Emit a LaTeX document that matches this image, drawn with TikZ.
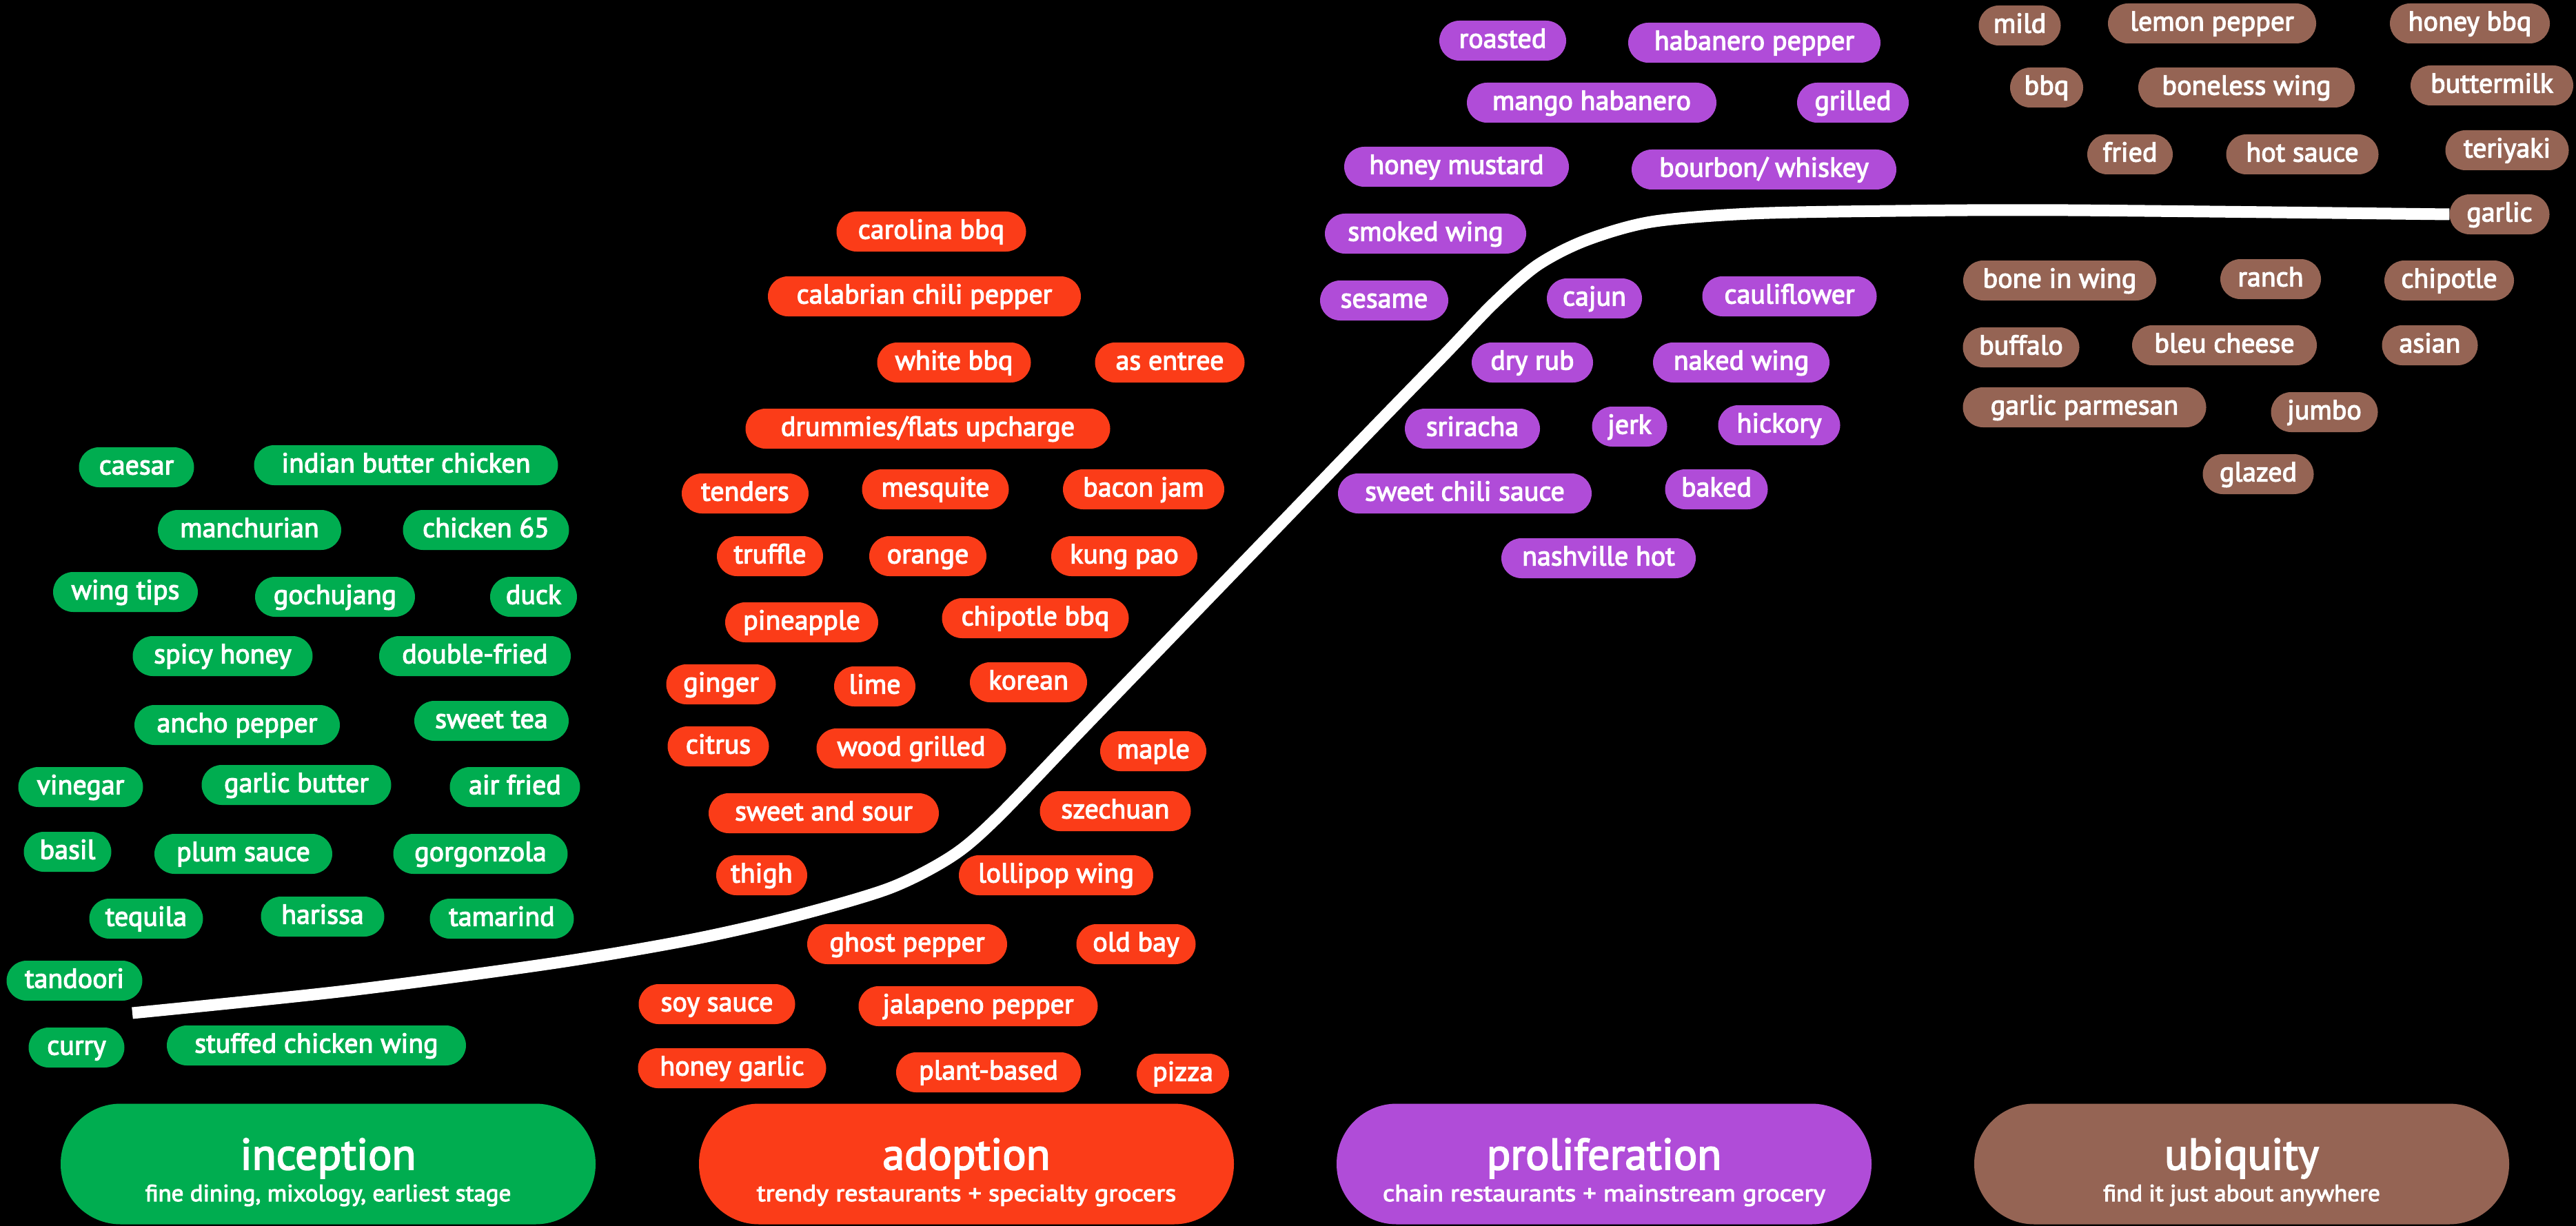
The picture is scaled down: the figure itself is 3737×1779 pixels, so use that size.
\documentclass[tikz,border=0pt]{standalone}
\usepackage{fontspec}
\setmainfont{PT Sans}
\newfontfamily\tagfont{PT Sans}[FakeBold=3]
\definecolor{cGreen}{RGB}{0,173,80}
\definecolor{cRed}{RGB}{251,60,24}
\definecolor{cPurple}{RGB}{176,76,216}
\definecolor{cBrown}{RGB}{149,100,84}
\tikzset{
  pill/.style={rectangle, rounded corners=29pt, text=white, minimum height=58pt,
    inner xsep=0pt, inner ysep=0pt, text height=29pt, text depth=8pt,
    font=\tagfont\fontsize{40pt}{48pt}\selectfont},
  gp/.style={pill, fill=cGreen},
  rp/.style={pill, fill=cRed},
  pp/.style={pill, fill=cPurple},
  bp/.style={pill, fill=cBrown},
  stage/.style={rectangle, rounded corners=87pt, minimum width=776pt, minimum height=175pt, inner sep=0pt},
  stitle/.style={text=white, anchor=base, inner sep=0pt, font=\tagfont\fontsize{64pt}{70pt}\selectfont},
  ssub/.style={text=white, anchor=base, inner sep=0pt, font=\tagfont\fontsize{34pt}{38pt}\selectfont},
  sline/.style={draw=white, line width=17pt, line cap=butt, line join=round}
}
\newcommand\tg[6]{\node[#1, minimum width=#5pt] (#2) at (#3,#4) {#6};}
\begin{document}
\begin{tikzpicture}[x=1pt,y=-1pt]
\fill[black] (0,0) rectangle (3737,1779);
\useasboundingbox (0,0) rectangle (3737,1779);

% inception
\tg{gp}{g1}{198}{678}{167}{caesar}
\tg{gp}{g2}{589}{675}{441}{indian butter chicken}
\tg{gp}{g3}{362}{769}{266}{manchurian}
\tg{gp}{g4}{705}{769}{241}{chicken 65}
\tg{gp}{g5}{182}{859}{210}{wing tips}
\tg{gp}{g6}{486}{866}{232}{gochujang}
\tg{gp}{g7}{774}{866}{126}{duck}
\tg{gp}{g8}{323}{952}{261}{spicy honey}
\tg{gp}{g9}{689}{952}{278}{double-fried}
\tg{gp}{g10}{344}{1052}{298}{ancho pepper}
\tg{gp}{g11}{713}{1046}{224}{sweet tea}
\tg{gp}{g12}{117}{1142}{181}{vinegar}
\tg{gp}{g13}{430}{1139}{275}{garlic butter}
\tg{gp}{g14}{747}{1142}{189}{air fried}
\tg{gp}{g15}{98}{1236}{127}{basil}
\tg{gp}{g16}{353}{1239}{258}{plum sauce}
\tg{gp}{g17}{697}{1239}{253}{gorgonzola}
\tg{gp}{g18}{212}{1333}{165}{tequila}
\tg{gp}{g19}{468}{1330}{179}{harissa}
\tg{gp}{g20}{728}{1333}{209}{tamarind}
\tg{gp}{g21}{108}{1423}{197}{tandoori}
\tg{gp}{g22}{111}{1520}{139}{curry}
\tg{gp}{g23}{459}{1517}{434}{stuffed chicken wing}

% adoption
\tg{rp}{r1}{1351}{336}{275}{carolina bbq}
\tg{rp}{r2}{1341}{430}{454}{calabrian chili pepper}
\tg{rp}{r3}{1384}{526}{223}{white bbq}
\tg{rp}{r4}{1697}{526}{217}{as entree}
\tg{rp}{r5}{1346}{622}{529}{drummies/flats upcharge}
\tg{rp}{r6}{1081}{716}{184}{tenders}
\tg{rp}{r7}{1357}{710}{213}{mesquite}
\tg{rp}{r8}{1659}{710}{234}{bacon jam}
\tg{rp}{r9}{1117}{807}{154}{truffle}
\tg{rp}{r10}{1346}{807}{170}{orange}
\tg{rp}{r11}{1631}{807}{212}{kung pao}
\tg{rp}{r12}{1163}{903}{222}{pineapple}
\tg{rp}{r13}{1502}{897}{271}{chipotle bbq}
\tg{rp}{r14}{1046}{993}{159}{ginger}
\tg{rp}{r15}{1269}{996}{118}{lime}
\tg{rp}{r16}{1492}{990}{170}{korean}
\tg{rp}{r17}{1042}{1083}{147}{citrus}
\tg{rp}{r18}{1322}{1086}{275}{wood grilled}
\tg{rp}{r19}{1673}{1090}{154}{maple}
\tg{rp}{r20}{1195}{1180}{334}{sweet and sour}
\tg{rp}{r21}{1618}{1177}{219}{szechuan}
\tg{rp}{r22}{1105}{1270}{132}{thigh}
\tg{rp}{r23}{1532}{1270}{282}{lollipop wing}
\tg{rp}{r24}{1316}{1370}{290}{ghost pepper}
\tg{rp}{r25}{1648}{1370}{173}{old bay}
\tg{rp}{r26}{1040}{1457}{227}{soy sauce}
\tg{rp}{r27}{1419}{1460}{347}{jalapeno pepper}
\tg{rp}{r28}{1062}{1550}{273}{honey garlic}
\tg{rp}{r29}{1434}{1556}{268}{plant-based}
\tg{rp}{r30}{1716}{1558}{134}{pizza}

% proliferation
\tg{pp}{p1}{2180}{59}{184}{roasted}
\tg{pp}{p2}{2545}{62}{366}{habanero pepper}
\tg{pp}{p3}{2309}{149}{362}{mango habanero}
\tg{pp}{p4}{2688}{149}{162}{grilled}
\tg{pp}{p5}{2113}{242}{326}{honey mustard}
\tg{pp}{p6}{2559}{246}{384}{bourbon/ whiskey}
\tg{pp}{p7}{2068}{339}{292}{smoked wing}
\tg{pp}{p8}{2008}{436}{186}{sesame}
\tg{pp}{p9}{2313}{433}{138}{cajun}
\tg{pp}{p10}{2596}{430}{253}{cauliflower}
\tg{pp}{p11}{2223}{526}{176}{dry rub}
\tg{pp}{p12}{2526}{526}{256}{naked wing}
\tg{pp}{p13}{2136}{622}{196}{sriracha}
\tg{pp}{p14}{2364}{619}{109}{jerk}
\tg{pp}{p15}{2581}{617}{177}{hickory}
\tg{pp}{p16}{2125}{716}{368}{sweet chili sauce}
\tg{pp}{p17}{2490}{710}{149}{baked}
\tg{pp}{p18}{2319}{810}{282}{nashville hot}

% ubiquity
\tg{bp}{b1}{2930}{37}{119}{mild}
\tg{bp}{b2}{3209}{34}{302}{lemon pepper}
\tg{bp}{b3}{3583}{34}{232}{honey bbq}
\tg{bp}{b4}{2969}{127}{106}{bbq}
\tg{bp}{b5}{3259}{127}{314}{boneless wing}
\tg{bp}{b6}{3615}{124}{236}{buttermilk}
\tg{bp}{b7}{3090}{224}{124}{fried}
\tg{bp}{b8}{3340}{224}{221}{hot sauce}
\tg{bp}{b9}{3637}{218}{179}{teriyaki}
\tg{bp}{garlic}{3626}{311}{145}{garlic}
\tg{bp}{b11}{2988}{407}{280}{bone in wing}
\tg{bp}{b12}{3294}{405}{146}{ranch}
\tg{bp}{b13}{3553}{407}{188}{chipotle}
\tg{bp}{b14}{2932}{504}{169}{buffalo}
\tg{bp}{b15}{3227}{501}{268}{bleu cheese}
\tg{bp}{b16}{3525}{501}{139}{asian}
\tg{bp}{b17}{3024}{591}{353}{garlic parmesan}
\tg{bp}{b18}{3372}{598}{155}{jumbo}
\tg{bp}{b19}{3276}{688}{161}{glazed}

% adoption curve
\coordinate (cstart) at (192,1470);
\draw[sline] plot[smooth, tension=0.5] coordinates {(cstart) (500,1438) (800,1398) (1000,1364) (1150,1330) (1290,1289) (1380,1243) (1445,1188) (1571,1057) (1711,912) (1852,766) (1992,621) (2097,513) (2167,440) (2230,385) (2300,349) (2395,322) (2539,310) (2750,306) (3000,305) (garlic.west)};

% stages
\node[stage, fill=cGreen] (s1) at (476,1689) {};
\node[stitle] (s1t) at (476,1697) {inception};
\node[ssub] (s1s) at (476,1743) {\scalebox{1.03}[1]{fine dining, mixology, earliest stage}};
\node[stage, fill=cRed] (s2) at (1402,1689) {};
\node[stitle] (s2t) at (1402,1697) {adoption};
\node[ssub] (s2s) at (1402,1743) {\scalebox{1.12}[1]{trendy restaurants + specialty grocers}};
\node[stage, fill=cPurple] (s3) at (2327,1689) {};
\node[stitle] (s3t) at (2327,1697) {proliferation};
\node[ssub] (s3s) at (2327,1743) {\scalebox{1.12}[1]{chain restaurants + mainstream grocery}};
\node[stage, fill=cBrown] (s4) at (3252,1689) {};
\node[stitle] (s4t) at (3252,1697) {ubiquity};
\node[ssub] (s4s) at (3252,1743) {\scalebox{1.03}[1]{find it just about anywhere}};
\end{tikzpicture}
\end{document}
